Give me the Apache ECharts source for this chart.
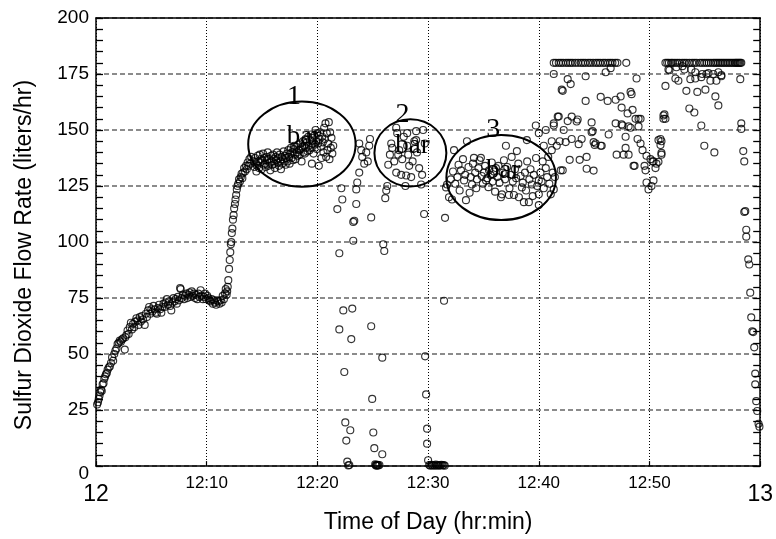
<!DOCTYPE html>
<html><head><meta charset="utf-8">
<script src="https://cdn.jsdelivr.net/npm/echarts@6/dist/echarts.min.js"></script>
<style>html,body{margin:0;padding:0;background:#fff}#c{width:776px;height:539px}</style>
</head><body><div id="c"></div>
<script>
// ---- tick labels ----
const xTickValues = [0, 10, 20, 30, 40, 50, 60];
const xTickLabels = ['12', '12:10', '12:20', '12:30', '12:40', '12:50', '13'];

// ---- data: [minutes after 12:00, SO2 flow (liters/hr)] ----
const rampUp = [[0.1,27.5],[0.18,28.5],[0.25,30],[0.32,31.5],[0.38,33],[0.45,34],[0.52,33.5],[0.6,36.5],[0.68,37],[0.75,39],[0.82,40],[0.9,41],[0.98,41.5],[1.05,43],[1.15,44],[1.25,44.5],[1.35,46],[1.45,48.5],[1.55,47],[1.65,50],[1.75,51.5],[1.85,52.5],[1.95,54.5],[2.05,55],[2.15,56],[2.25,55.5],[2.35,56.5],[2.45,57],[2.6,52],[2.65,57.5],[2.75,58.5],[2.85,60.5],[2.95,59],[3.05,62],[3.15,64],[3.25,61],[3.35,63.5],[3.45,62],[3.55,64.5],[3.65,66],[3.75,65],[3.85,63],[3.95,66.5],[4.05,64.5],[4.15,67],[4.25,65.5],[4.4,63],[4.5,68],[4.6,66.5],[4.7,69.5],[4.8,71],[4.9,68],[5.0,70],[5.1,69],[5.2,71.5],[5.3,70],[5.4,68.5],[5.5,68],[5.6,70.5],[5.7,72],[5.8,70],[5.9,68.5],[6.0,71],[6.1,72.5],[6.2,71],[6.3,73],[6.4,74.5],[6.5,72],[6.6,73.5],[6.7,71.5],[6.8,69.5],[6.9,73],[7.0,75],[7.1,73.5],[7.2,74.5],[7.3,72.5],[7.4,75.5],[7.5,74],[7.6,79.5],[7.65,79],[7.75,75],[7.85,76.5],[7.95,74.5],[8.05,76],[8.15,77],[8.25,75],[8.35,76.5],[8.45,77.5],[8.55,75.5],[8.65,78],[8.75,76],[8.85,77],[8.95,75],[9.05,76.5],[9.15,74.5],[9.25,77],[9.35,75.5],[9.45,78.5],[9.55,76],[9.65,74.5],[9.75,75.5],[9.85,77],[9.95,74.5],[10.05,76],[10.15,75],[10.25,74],[10.35,73.5],[10.45,74.5],[10.55,72.5],[10.65,74],[10.75,73],[10.85,72],[10.95,74],[11.05,73.5],[11.15,72.5],[11.25,74],[11.35,73],[11.45,76],[11.55,74.5],[11.65,77],[11.72,79],[11.8,76.5],[11.85,78]];

const riseToPlateau = [[11.9,80],[11.95,83],[12.02,88],[12.08,92],[12.13,95.5],[12.18,99],[12.22,100],[12.27,104],[12.32,106],[12.37,110],[12.43,112],[12.48,115],[12.55,117],[12.6,119],[12.66,121],[12.72,123.5],[12.78,125],[12.85,126],[12.92,128],[13.0,127],[13.08,129],[13.15,130.5],[13.22,128.5],[13.3,131],[13.38,133],[13.46,131.5],[13.55,134],[13.62,132.5],[13.7,135.5],[13.78,134],[13.86,137],[13.95,135],[14.02,138]];

const plateau1 = [[14.25,136],[14.31,133.5],[14.37,137.5],[14.43,135],[14.49,131.5],[14.55,134],[14.61,138.5],[14.67,136],[14.73,133],[14.79,139],[14.85,135.5],[14.91,137],[14.97,132.5],[15.03,136.5],[15.09,139.5],[15.15,134.5],[15.21,137.5],[15.27,135],[15.33,133.5],[15.39,138],[15.45,136.5],[15.51,140],[15.57,134],[15.63,137],[15.69,135.5],[15.75,132],[15.81,138.5],[15.87,136],[15.93,134.5],[15.99,139],[16.05,137],[16.11,135],[16.17,133],[16.23,138],[16.29,136.5],[16.35,140],[16.41,135.5],[16.47,137.5],[16.53,134],[16.59,139],[16.65,136],[16.71,132.5],[16.77,138],[16.83,135],[16.89,137],[16.95,140.5],[17.01,136],[17.07,138.5],[17.13,134.5],[17.19,137.5],[17.25,139.5],[17.31,136],[17.37,141],[17.43,138],[17.49,135],[17.55,139.5],[17.61,142],[17.67,137.5],[17.73,140],[17.79,136.5],[17.85,141.5],[17.91,143],[17.97,139],[18.03,137],[18.09,142.5],[18.15,140],[18.21,138.5],[18.27,143.5],[18.33,141],[18.39,139],[18.45,144],[18.51,141.5],[18.57,136],[18.63,142.5],[18.69,145],[18.75,140],[18.81,143],[18.87,139.5],[18.93,146],[18.99,142],[19.05,144.5],[19.11,140.5],[19.17,147],[19.23,143],[19.29,141],[19.35,145.5],[19.41,148],[19.47,142],[19.5,135],[19.53,146.5],[19.59,144],[19.65,139.5],[19.71,147.5],[19.77,143.5],[19.83,150],[19.89,145],[19.95,141.5],[20.01,148.5],[20.07,144],[20.13,134],[20.19,146],[20.25,149],[20.31,142.5],[20.37,137.5],[20.43,147],[20.49,144.5],[20.55,140],[20.61,151],[20.67,146],[20.73,153],[20.79,138],[20.85,148.5],[20.91,141],[20.97,144],[21.03,153.5],[21.09,137],[21.15,149],[21.21,142],[21.27,146.5],[21.35,139.5],[21.43,143]];

const dropout1 = [[21.8,114.7],[21.98,95],[22.16,124],[22.25,119],[21.98,61],[22.34,69.5],[22.43,42],[22.52,19.5],[22.61,11.4],[22.97,16],[22.7,2],[22.88,0.5],[22.79,0.3],[23.15,70.3],[23.06,56.7],[23.24,109],[23.33,109.5],[23.24,100.6],[23.51,117],[23.51,123.5],[23.6,126.6],[23.78,131],[23.78,144],[23.96,141],[24.05,138],[24.23,135],[24.41,140],[24.68,143],[24.55,136],[24.75,146],[24.86,111],[24.86,62.4],[24.95,30],[25.05,15],[25.14,8],[25.22,0.8],[25.28,0.3],[25.33,0.5],[25.38,0.2],[25.43,0.6],[25.5,0.3],[25.6,0.5],[25.86,5.3],[25.86,48.4],[25.95,99],[26.04,96],[26.13,119.6],[26.22,123],[26.31,125]];

const plateau2 = [[27.12,151],[27.21,148.6],[28.11,148.6],[28.92,149.5],[28.92,145.5],[26.67,144],[26.76,142],[27.39,141],[28.11,143],[26.4,134.5],[26.94,136],[27.66,137],[28.29,134],[29.19,133],[29.46,130],[27.12,131],[27.57,130],[28.02,129.7],[29.37,125.7],[28.47,129],[27.3,139],[27.8,147],[28.2,139],[28.6,136],[28.75,145],[27.95,125],[29.0,140],[26.55,139],[29.64,112.5],[29.55,150],[29.7,144]];

const dropout2 = [[29.73,49],[29.82,32],[29.91,16.7],[29.91,10],[30.0,2.6],[30.1,0.5],[30.2,0.2],[30.3,0.6],[30.4,0.3],[30.5,0.5],[30.6,0.2],[30.7,0.7],[30.8,0.3],[30.9,0.5],[31.0,0.2],[31.1,0.4],[31.2,0.6],[31.3,0.3],[31.4,0.5],[31.5,0.2],[31.44,73.8],[31.53,110.8]];

const plateau3 = [[31.62,124.4],[31.71,125.7],[31.89,120],[32.16,119],[32.34,141],[32.97,132],[33.42,118.7],[33.51,145],[34.14,137.6],[34.77,137.6],[34.41,128],[33.96,125.7],[35.23,127.5],[35.5,132],[36.13,133],[36.58,120],[36.67,121.3],[37.03,143],[37.3,121],[38.02,140.6],[38.2,120],[38.47,124.4],[38.65,117.8],[38.92,145.5],[39.1,117.8],[39.37,125.7],[39.73,152],[40.0,127.5],[40.0,121.3],[40.0,116.5],[40.0,148.6],[40.45,143],[40.63,133],[40.63,150],[41.08,121.3],[41.17,141],[41.17,145],[41.35,153],[41.62,143],[41.8,156],[41.98,132],[42.07,168],[32.05,128],[32.25,131.5],[32.45,126],[32.65,129],[32.75,134.5],[32.85,123],[33.15,137],[33.25,127.5],[33.35,130],[33.65,133.5],[33.75,122],[33.85,129],[34.05,135],[34.25,131],[34.35,124],[34.55,133],[34.65,136.5],[34.85,129.5],[34.95,126],[35.05,131],[35.15,134],[35.35,128.5],[35.45,124.5],[35.65,130],[35.75,135.5],[35.85,127],[35.95,131.5],[36.05,122.5],[36.25,129],[36.35,134],[36.45,126.5],[36.75,131],[36.85,136.5],[36.95,128],[37.15,133.5],[37.35,124],[37.45,130],[37.55,138],[37.65,127],[37.75,121],[37.85,132.5],[37.95,128.5],[38.15,135],[38.35,129.5],[38.55,126.5],[38.75,131],[38.85,123],[38.95,136],[39.15,128],[39.25,132.5],[39.45,120.5],[39.55,130],[39.75,137.5],[39.85,125],[40.15,131],[40.25,127],[40.35,136],[40.45,124],[40.75,129],[40.85,138],[40.95,126],[41.25,131],[41.35,123.5],[41.45,129]];

const highFlow1 = [[41.35,175],[42.16,167.5],[42.61,172.7],[42.88,170.5],[44.23,174],[41.35,152],[41.71,156],[42.25,150],[42.61,154],[42.97,156],[43.42,153.8],[43.51,154.7],[44.23,163],[44.77,153.4],[44.77,149],[45.59,164.8],[46.22,163],[46.04,175.8],[46.49,177.6],[46.94,163.5],[47.39,165],[47.48,160],[48.38,166],[48.47,159],[48.02,157.4],[48.74,155],[49.01,155],[49.01,151.6],[48.83,173],[48.29,151],[47.57,152],[46.94,153],[46.31,148],[47.84,147],[41.89,145],[42.43,144.6],[42.97,146],[43.6,143.7],[43.87,146],[44.95,144.6],[45.68,143],[45.05,143.3],[42.79,136.7],[43.69,136.7],[44.32,138],[44.32,132.7],[44.95,131.9],[47.03,139],[47.66,139],[48.11,139],[47.84,142],[48.65,134],[48.92,146],[49.19,144],[49.37,141],[49.73,138.5],[50.09,137],[50.36,136],[50.63,135],[50.54,133],[49.64,132],[49.73,126.6],[50.36,127.5],[49.91,123.5],[50.18,125],[50.81,145.5],[51.08,145],[50.99,143.3],[51.08,139.8],[51.26,155],[51.26,156.5],[45.14,144],[45.59,143],[44.86,149.5],[47.48,152.5],[48.11,151.6],[48.56,134],[49.55,134],[50.27,136],[50.81,135.8],[51.08,139],[42.16,132],[48.29,167],[49.19,155]];

const highFlow2 = [[51.44,169.7],[51.8,176.7],[52.34,173],[52.61,172],[53.33,167.5],[53.6,159.6],[54.05,157.8],[53.69,172.7],[54.14,173],[54.32,167],[55.05,168],[54.68,173.6],[55.32,175.4],[55.77,175],[56.22,175.8],[56.49,174.5],[55.95,165],[56.22,161],[54.68,152],[54.95,143],[55.86,140],[51.44,155],[51.35,157],[50.99,146],[51.71,177],[52.43,178],[52.97,178.5],[53.15,177],[53.78,177],[54.14,175.8],[54.77,175],[55.5,172],[56.04,172],[56.49,174],[55.14,175]];

// readings pinned at the 180 l/hr ceiling
const cappedTimes = [41.35,41.55,41.8,42.0,42.2,42.45,42.65,42.85,43.05,43.3,43.55,43.8,44.0,44.2,44.45,44.65,44.9,45.15,45.35,45.55,45.8,46.0,46.25,46.45,46.65,46.9,47.1,47.9,51.44,51.6,51.75,51.95,52.1,52.3,52.5,52.7,52.95,53.15,53.35,53.6,53.85,54.05,54.25,54.55,54.75,54.95,55.15,55.35,55.55,55.75,55.9,56.05,56.2,56.35,56.5,56.65,56.8,56.95,57.1,57.25,57.4,57.55,57.7,57.8,57.9,58.0,58.1,58.2,58.29];
const cappedFlow = 180;

const shutdown = [[58.2,172.7],[58.29,153],[58.29,150.5],[58.47,140.6],[58.56,136],[58.65,113.8],[58.56,113.4],[58.74,105.5],[58.74,102.4],[58.92,92.3],[59.01,90],[59.1,77.4],[59.19,66.4],[59.28,60.2],[59.37,59.8],[59.46,53],[59.55,41.3],[59.55,36.5],[59.64,29],[59.73,24.6],[59.85,18.9],[59.93,17.6]];

// ---- annotation ellipses (data units) ----
const annotationNumbers = ['1', '2', '3'];
const annotationWords = ['bar', 'bar', 'bar'];
const annotationCenterTime = [18.6, 28.4, 36.6];
const annotationCenterFlow = [143.7, 139.8, 128.8];
const annotationHalfWidthMin = [4.85, 3.25, 4.95];
const annotationHalfHeightFlow = [19, 15, 19];

const capped = cappedTimes.map(t => [t, cappedFlow]);
const allPoints = [].concat(rampUp, riseToPlateau, plateau1, dropout1, plateau2, dropout2, plateau3, highFlow1, highFlow2, capped, shutdown);
const annotationData = annotationNumbers.map((n, i) => [annotationCenterTime[i], annotationCenterFlow[i], annotationHalfWidthMin[i], annotationHalfHeightFlow[i], i]);

const SANS = '"Liberation Sans", Arial, sans-serif';
const SERIF = '"Liberation Serif", "Times New Roman", serif';

const chart = echarts.init(document.getElementById('c'), null, {renderer: 'canvas'});
chart.setOption({
  animation: false,
  backgroundColor: '#fff',
  grid: {left: 96, right: 14, top: 18, bottom: 66},
  xAxis: [{
    type: 'value', min: 0, max: 60, interval: 10, position: 'bottom',
    axisLine: {show: true, onZero: false, lineStyle: {color: '#000', width: 1.5}},
    axisTick: {show: true, inside: true, length: 5, lineStyle: {color: '#000', width: 1.2}},
    splitLine: {show: true, lineStyle: {color: '#000', type: [1, 2], width: 1}},
    axisLabel: {
      color: '#000', fontFamily: SANS, fontSize: 17, margin: 9,
      showMinLabel: true, showMaxLabel: true,
      formatter: function (v) {
        const i = xTickValues.indexOf(v);
        const s = i >= 0 ? xTickLabels[i] : '';
        return (v === 0 || v === 60) ? '{b|' + s + '}' : '{s|' + s + '}';
      },
      rich: {
        b: {fontSize: 23, fontFamily: SANS, color: '#000', padding: [8, 0, 0, 0]},
        s: {fontSize: 17, fontFamily: SANS, color: '#000'}
      }
    },
    name: 'Time of Day (hr:min)', nameLocation: 'middle', nameGap: 37,
    nameTextStyle: {color: '#000', fontFamily: SANS, fontSize: 23}
  }, {
    type: 'value', min: 0, max: 60, position: 'top',
    axisLine: {show: true, onZero: false, lineStyle: {color: '#000', width: 1.5}},
    axisTick: {show: false}, axisLabel: {show: false}, splitLine: {show: false}
  }],
  yAxis: [{
    type: 'value', min: 0, max: 200, interval: 25, position: 'left',
    axisLine: {show: true, onZero: false, lineStyle: {color: '#000', width: 1.5}},
    axisTick: {show: false},
    splitLine: {show: true, lineStyle: {color: '#666', type: [5, 3], width: 1.5}},
    axisLabel: {
      color: '#000', fontFamily: SANS, fontSize: 19, margin: 7,
      formatter: function (v) { return v === 0 ? '{z|0}' : String(v); },
      rich: {z: {fontSize: 19, fontFamily: SANS, color: '#000', padding: [16, 0, 0, 0]}}
    },
    name: 'Sulfur Dioxide Flow Rate (liters/hr)', nameLocation: 'middle', nameGap: 60, nameRotate: 90,
    nameTextStyle: {color: '#000', fontFamily: SANS, fontSize: 23, padding: [0, 26, 0, 0]}
  }, {
    // right frame edge with ticks every 5 l/hr
    type: 'value', min: 0, max: 200, interval: 5, position: 'right',
    axisLine: {show: true, onZero: false, lineStyle: {color: '#000', width: 1.5}},
    axisTick: {show: true, inside: true, length: 7, lineStyle: {color: '#000', width: 1.3}},
    axisLabel: {show: false}, splitLine: {show: false}
  }, {
    // left ticks every 5 l/hr
    type: 'value', min: 0, max: 200, interval: 5, position: 'left',
    axisLine: {show: false},
    axisTick: {show: true, inside: true, length: 7, lineStyle: {color: '#000', width: 1.3}},
    axisLabel: {show: false}, splitLine: {show: false}
  }],
  series: [{
    type: 'scatter', xAxisIndex: 0, yAxisIndex: 0,
    data: allPoints, symbol: 'circle', symbolSize: 7,
    itemStyle: {color: 'rgba(0,0,0,0)', borderColor: '#000', borderWidth: 1.15},
    emphasis: {disabled: true}, z: 2
  }, {
    type: 'custom', xAxisIndex: 0, yAxisIndex: 0, z: 5,
    data: annotationData,
    encode: {x: 0, y: 1},
    renderItem: function (params, api) {
      const c = api.coord([api.value(0), api.value(1)]);
      const s = api.size([api.value(2), api.value(3)]);
      const i = api.value(4);
      return {
        type: 'group',
        children: [{
          type: 'ellipse',
          shape: {cx: c[0], cy: c[1], rx: s[0], ry: s[1]},
          style: {fill: 'none', stroke: '#000', lineWidth: 2}
        }, {
          type: 'text', x: c[0] - 8, y: c[1] - s[1] - 5,
          style: {text: annotationNumbers[i], font: '28px ' + SERIF, fill: '#000', align: 'center', verticalAlign: 'middle'}
        }, {
          type: 'text', x: c[0] + 2, y: c[1] - 7,
          style: {text: annotationWords[i], font: '27px ' + SERIF, fill: '#000', align: 'center', verticalAlign: 'middle'}
        }]
      };
    }
  }]
});
</script>
</body></html>
